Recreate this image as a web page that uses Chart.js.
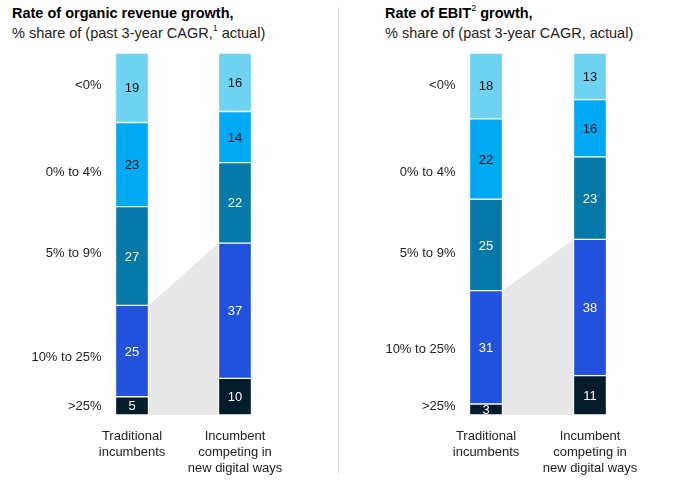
<!DOCTYPE html>
<html><head><meta charset="utf-8">
<script src="https://cdn.jsdelivr.net/npm/chart.js@4"></script>
<style>
body{margin:0;background:#fff;width:679px;height:481px;position:relative;overflow:hidden;font-family:"Liberation Sans",Arial,sans-serif;}
.t{position:absolute;top:3px;color:#222;font-size:14.5px;line-height:20px;white-space:nowrap;}
.t b{font-weight:700;color:#000;}
.t sup{font-size:9px;line-height:0;position:relative;top:-1px;}
.c{position:absolute;top:0;width:339px;height:481px;}
.dv{position:absolute;left:338px;top:7px;width:1px;height:467px;background:#dcdcdc;}
</style></head>
<body>
<div class="t" style="left:12px"><b>Rate of organic revenue growth,</b><br>% share of (past 3-year CAGR,<sup>1</sup> actual)</div>
<div class="t" style="left:385px"><b>Rate of EBIT<sup style="font-weight:400">2</sup> growth,</b><br>% share of (past 3-year CAGR, actual)</div>
<div class="dv"></div>
<div class="c" style="left:0"><canvas id="c1" width="339" height="481"></canvas></div>
<div class="c" style="left:340px"><canvas id="c2" width="339" height="481"></canvas></div>
<script>
// categories (x axis)
const categories = [['Traditional', 'incumbents'], ['Incumbent', 'competing in', 'new digital ways']];
// growth bands, bottom of stack to top
const bands = ['>25%', '10% to 25%', '5% to 9%', '0% to 4%', '<0%'];
// revenue panel values (% share), per band bottom to top
const revenueTraditional = [5, 25, 27, 23, 19];
const revenueDigital = [10, 37, 22, 14, 16];
// EBIT panel values (% share), per band bottom to top
const ebitTraditional = [3, 31, 25, 22, 18];
const ebitDigital = [11, 38, 23, 16, 13];
// band label tick values on the 0-100 axis
const revenueBandTicks = [2.5, 16, 44.5, 67, 91];
const ebitBandTicks = [2.5, 18.2, 44.5, 67, 91];

const colors = ['#051c2c', '#2251dd', '#0679a8', '#00a9f4', '#6dd3f0'];
const textColors = ['#ffffff', '#ffffff', '#ffffff', '#111111', '#111111'];
const FONT = '"Liberation Sans", Arial, sans-serif';

function makeChart(id, trad, dig, bandTicks, padL, padR) {
  const tTot = trad.reduce((a, b) => a + b, 0);
  const dTot = dig.reduce((a, b) => a + b, 0);
  const datasets = bands.map((b, i) => ({
    label: b,
    data: [trad[i] / tTot * 100, dig[i] / dTot * 100],
    raw: [trad[i], dig[i]],
    backgroundColor: colors[i],
    borderColor: 'rgba(255,255,255,0.75)',
    borderWidth: 1,
    borderSkipped: false,
    barThickness: 33
  }));
  const connector = {
    id: 'connector',
    beforeDatasetsDraw(chart) {
      const m = chart.getDatasetMeta(1).data;
      const a = m[0], b = m[1];
      const base = chart.scales.y.getPixelForValue(0);
      const ctx = chart.ctx;
      ctx.save();
      ctx.fillStyle = '#e8e8e8';
      ctx.beginPath();
      ctx.moveTo(a.x + a.width / 2, a.y);
      ctx.lineTo(b.x - b.width / 2, b.y);
      ctx.lineTo(b.x - b.width / 2, base);
      ctx.lineTo(a.x + a.width / 2, base);
      ctx.closePath();
      ctx.fill();
      ctx.restore();
    }
  };
  const labels = {
    id: 'vals',
    afterDatasetsDraw(chart) {
      const ctx = chart.ctx;
      ctx.save();
      ctx.font = '13px ' + FONT;
      ctx.textAlign = 'center';
      ctx.textBaseline = 'middle';
      chart.data.datasets.forEach((ds, i) => {
        chart.getDatasetMeta(i).data.forEach((el, j) => {
          ctx.fillStyle = textColors[i];
          ctx.fillText(String(ds.raw[j]), el.x, (el.y + el.base) / 2 + 1);
        });
      });
      const y = chart.scales.y;
      const first = chart.getDatasetMeta(0).data[0];
      ctx.fillStyle = '#222';
      ctx.textAlign = 'right';
      bands.forEach((b, i) => {
        ctx.fillText(b, first.x - first.width / 2 - 14, y.getPixelForValue(bandTicks[i]));
      });
      ctx.restore();
    }
  };
  return new Chart(document.getElementById(id), {
    type: 'bar',
    data: { labels: categories, datasets },
    options: {
      responsive: false,
      animation: false,
      layout: { padding: { top: 53, left: padL, right: padR, bottom: 0 } },
      plugins: { legend: { display: false }, tooltip: { enabled: false } },
      scales: {
        x: {
          stacked: true,
          grid: { display: false, drawTicks: false },
          border: { display: false },
          ticks: { color: '#222', font: { family: FONT, size: 13, lineHeight: 1.23 }, padding: 13, maxRotation: 0, autoSkip: false },
          afterFit(s) { s.height = 66; }
        },
        y: { stacked: true, display: false, min: 0, max: 100 }
      }
    },
    plugins: [connector, labels]
  });
}
makeChart('c1', revenueTraditional, revenueDigital, revenueBandTicks, 80.5, 52.5);
makeChart('c2', ebitTraditional, ebitDigital, ebitBandTicks, 94, 37);
</script>
</body></html>
